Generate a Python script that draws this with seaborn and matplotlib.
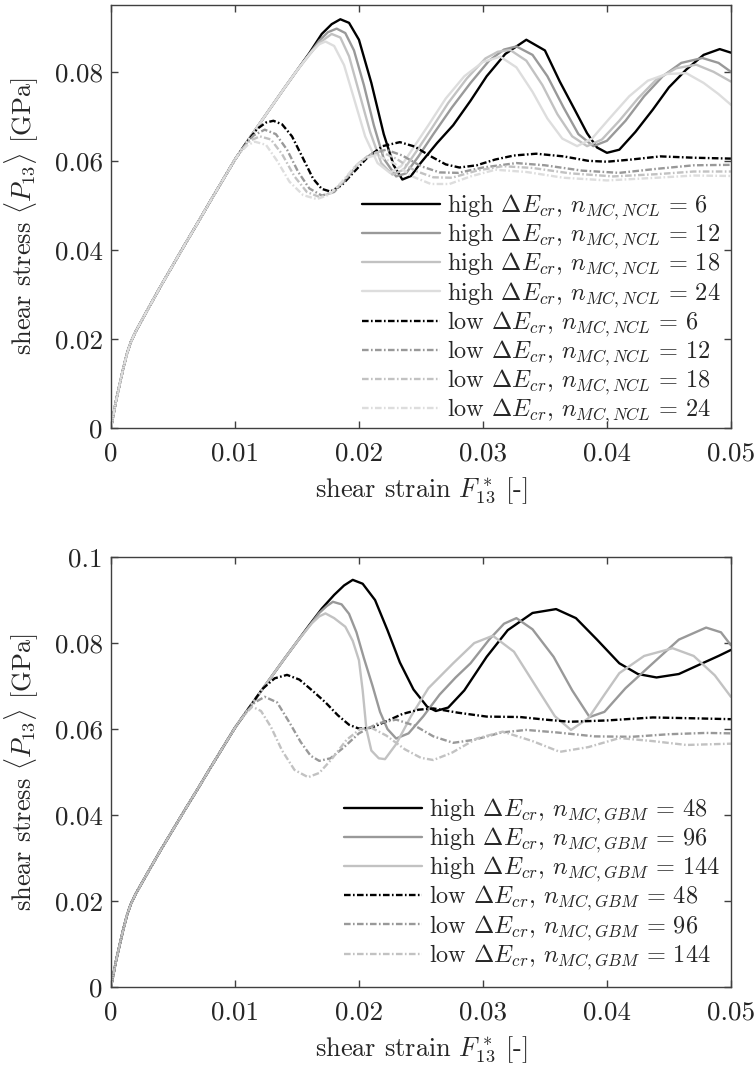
import matplotlib
matplotlib.use('Agg')
import matplotlib.pyplot as plt
import seaborn as sns
import pandas as pd

sns.set_style('ticks')
plt.rcParams['font.family'] = ['cmr10']
plt.rcParams['mathtext.fontset'] = 'cm'
plt.rcParams['axes.formatter.use_mathtext'] = True


# shared elastic part (same for every run)
x_start = [0, 0.0002, 0.0004, 0.0007, 0.001, 0.0013, 0.0016, 0.002, 0.003, 0.004, 0.005,
           0.006, 0.007, 0.008, 0.009, 0.010]
y_start = [0, 0.003, 0.006, 0.0098, 0.0135, 0.0168, 0.0193, 0.0217, 0.0268, 0.0318, 0.0366,
           0.0414, 0.0461, 0.0509, 0.0556, 0.0603]

# continued rise of the high-energy runs
x_rise = [0.011, 0.012, 0.013, 0.014, 0.015]
y_rise = [0.0644, 0.0684, 0.0724, 0.0764, 0.0803]

# ---- top panel: NCL ----
x_h6 = [0.016, 0.017, 0.0178, 0.0185, 0.0192, 0.0200, 0.0210, 0.0220, 0.0228, 0.0235, 0.0242,
        0.0250, 0.0263, 0.0276, 0.0290, 0.0303, 0.0318, 0.0335, 0.0350, 0.0362, 0.0374, 0.0384,
        0.0392, 0.0400, 0.0410, 0.0423, 0.0437, 0.0450, 0.0464, 0.0478, 0.0491, 0.0500]
y_h6 = [0.0842, 0.0885, 0.0907, 0.0918, 0.0910, 0.0872, 0.0775, 0.0660, 0.0590, 0.0558, 0.0566,
        0.0596, 0.0640, 0.0680, 0.0735, 0.0790, 0.0840, 0.0872, 0.0848, 0.0778, 0.0715, 0.0662,
        0.0630, 0.0618, 0.0625, 0.0665, 0.0715, 0.0765, 0.0805, 0.0838, 0.0851, 0.0843]

x_h12 = [0.016, 0.0168, 0.0175, 0.0182, 0.0189, 0.0196, 0.0204, 0.0212, 0.0220, 0.0230, 0.0238,
         0.0248, 0.0260, 0.0275, 0.0290, 0.0305, 0.0317, 0.0327, 0.0340, 0.0352, 0.0365, 0.0377,
         0.0389, 0.0400, 0.0415, 0.0430, 0.0445, 0.0460, 0.0477, 0.0490, 0.0500]
y_h12 = [0.0840, 0.0870, 0.0889, 0.0897, 0.0887, 0.0848, 0.0770, 0.0680, 0.0605, 0.0565, 0.0572,
         0.0610, 0.0660, 0.0720, 0.0775, 0.0825, 0.0850, 0.0857, 0.0838, 0.0790, 0.0720, 0.0660,
         0.0633, 0.0645, 0.0690, 0.0745, 0.0790, 0.0820, 0.0831, 0.0820, 0.0800]

x_h18 = [0.016, 0.0168, 0.0178, 0.0185, 0.0192, 0.0200, 0.0209, 0.0218, 0.0227, 0.0236, 0.0246,
         0.0258, 0.0272, 0.0287, 0.0302, 0.0312, 0.0322, 0.0335, 0.0348, 0.0360, 0.0372, 0.0384,
         0.0396, 0.0410, 0.0425, 0.0440, 0.0456, 0.0472, 0.0486, 0.0500]
y_h18 = [0.0838, 0.0865, 0.0885, 0.0877, 0.0835, 0.0755, 0.0665, 0.0595, 0.0569, 0.0580, 0.0620,
         0.0670, 0.0730, 0.0785, 0.0830, 0.0845, 0.0849, 0.0825, 0.0770, 0.0705, 0.0655, 0.0633,
         0.0648, 0.0690, 0.0740, 0.0783, 0.0808, 0.0816, 0.0800, 0.0778]

x_h24 = [0.0155, 0.0162, 0.0168, 0.0173, 0.0180, 0.0188, 0.0196, 0.0205, 0.0215, 0.0225, 0.0234,
         0.0244, 0.0256, 0.0270, 0.0285, 0.0300, 0.0314, 0.0327, 0.0340, 0.0352, 0.0364, 0.0376,
         0.0388, 0.0402, 0.0418, 0.0433, 0.0448, 0.0464, 0.0478, 0.0490, 0.0500]
y_h24 = [0.0821, 0.0846, 0.0862, 0.0868, 0.0858, 0.0815, 0.0740, 0.0655, 0.0595, 0.0573, 0.0588,
         0.0630, 0.0680, 0.0740, 0.0790, 0.0822, 0.0834, 0.0810, 0.0755, 0.0695, 0.0650, 0.0633,
         0.0650, 0.0695, 0.0745, 0.0780, 0.0795, 0.0797, 0.0775, 0.0750, 0.0726]

x_l6 = [0.0110, 0.0118, 0.0125, 0.0131, 0.0138, 0.0146, 0.0155, 0.0163, 0.0170, 0.0177, 0.0186,
        0.0196, 0.0207, 0.0219, 0.0233, 0.0245, 0.0258, 0.0270, 0.0281, 0.0295, 0.0310, 0.0325,
        0.0343, 0.0365, 0.0385, 0.0400, 0.0420, 0.0443, 0.0470, 0.0500]
y_l6 = [0.0644, 0.0672, 0.0686, 0.0690, 0.0682, 0.0655, 0.0605, 0.0560, 0.0537, 0.0531, 0.0545,
        0.0575, 0.0608, 0.0633, 0.0642, 0.0632, 0.0610, 0.0592, 0.0585, 0.0590, 0.0603, 0.0612,
        0.0616, 0.0610, 0.0600, 0.0598, 0.0603, 0.0610, 0.0607, 0.0605]

x_l12 = [0.0107, 0.0115, 0.0124, 0.0133, 0.0142, 0.0151, 0.0160, 0.0170, 0.0180, 0.0190, 0.0200,
         0.0211, 0.0222, 0.0235, 0.0250, 0.0265, 0.0280, 0.0300, 0.0327, 0.0350, 0.0380, 0.0410,
         0.0440, 0.0470, 0.0500]
y_l12 = [0.0631, 0.0657, 0.0670, 0.0660, 0.0625, 0.0575, 0.0538, 0.0522, 0.0530, 0.0560, 0.0595,
         0.0617, 0.0625, 0.0612, 0.0588, 0.0574, 0.0573, 0.0585, 0.0595, 0.0590, 0.0578, 0.0573,
         0.0582, 0.0590, 0.0591]

x_l18 = [0.0105, 0.0112, 0.0120, 0.0129, 0.0138, 0.0148, 0.0158, 0.0168, 0.0178, 0.0188, 0.0198,
         0.0208, 0.0217, 0.0230, 0.0245, 0.0260, 0.0275, 0.0295, 0.0316, 0.0340, 0.0370, 0.0405,
         0.0440, 0.0470, 0.0500]
y_l18 = [0.0623, 0.0645, 0.0655, 0.0648, 0.0615, 0.0565, 0.0530, 0.0519, 0.0528, 0.0556, 0.0590,
         0.0613, 0.0621, 0.0605, 0.0578, 0.0563, 0.0562, 0.0578, 0.0588, 0.0584, 0.0572, 0.0565,
         0.0570, 0.0576, 0.0576]

x_l24 = [0.0103, 0.0110, 0.0116, 0.0125, 0.0134, 0.0144, 0.0155, 0.0166, 0.0176, 0.0186, 0.0196,
         0.0205, 0.0214, 0.0228, 0.0243, 0.0258, 0.0273, 0.0290, 0.0310, 0.0335, 0.0365, 0.0400,
         0.0440, 0.0470, 0.0500]
y_l24 = [0.0615, 0.0635, 0.0643, 0.0636, 0.0600, 0.0553, 0.0523, 0.0514, 0.0524, 0.0552, 0.0585,
         0.0606, 0.0613, 0.0595, 0.0565, 0.0548, 0.0548, 0.0565, 0.0580, 0.0575, 0.0562, 0.0556,
         0.0562, 0.0567, 0.0566]

# ---- bottom panel: GBM ----
x_h48 = [0.016, 0.017, 0.018, 0.0188, 0.0195, 0.0203, 0.0213, 0.0223, 0.0233, 0.0244, 0.0255,
         0.0262, 0.0272, 0.0285, 0.0303, 0.0320, 0.0340, 0.0359, 0.0375, 0.0392, 0.0410, 0.0425,
         0.0440, 0.0458, 0.0477, 0.0490, 0.0500]
y_h48 = [0.0842, 0.0880, 0.0912, 0.0934, 0.0947, 0.0938, 0.0900, 0.0830, 0.0755, 0.0692, 0.0652,
         0.0642, 0.0650, 0.0690, 0.0768, 0.0830, 0.0870, 0.0879, 0.0858, 0.0808, 0.0753, 0.0728,
         0.0720, 0.0728, 0.0753, 0.0770, 0.0784]

x_h96 = [0.016, 0.0168, 0.0174, 0.0179, 0.0186, 0.0192, 0.0198, 0.0204, 0.0211, 0.0217, 0.0223,
         0.0230, 0.0240, 0.0252, 0.0265, 0.0278, 0.0290, 0.0305, 0.0317, 0.0327, 0.0340, 0.0357,
         0.0372, 0.0386, 0.0398, 0.0415, 0.0437, 0.0458, 0.0480, 0.0492, 0.0500]
y_h96 = [0.0840, 0.0870, 0.0886, 0.0896, 0.0890, 0.0868, 0.0825, 0.0765, 0.0700, 0.0640, 0.0600,
         0.0578, 0.0590, 0.0630, 0.0680, 0.0720, 0.0753, 0.0808, 0.0845, 0.0858, 0.0832, 0.0768,
         0.0690, 0.0628, 0.0640, 0.0695, 0.0753, 0.0808, 0.0836, 0.0825, 0.0795]

x_h144 = [0.0155, 0.0162, 0.0168, 0.0173, 0.0180, 0.0189, 0.0195, 0.0200, 0.0203, 0.0206, 0.0210,
          0.0216, 0.0221, 0.0230, 0.0242, 0.0256, 0.0276, 0.0293, 0.0308, 0.0325, 0.0343, 0.0358,
          0.0371, 0.0385, 0.0398, 0.0410, 0.0430, 0.0453, 0.0470, 0.0487, 0.0500]
y_h144 = [0.0821, 0.0846, 0.0862, 0.0869, 0.0858, 0.0838, 0.0805, 0.0760, 0.0690, 0.0600, 0.0550,
          0.0532, 0.0530, 0.0565, 0.0630, 0.0695, 0.0753, 0.0800, 0.0817, 0.0780, 0.0698, 0.0630,
          0.0598, 0.0625, 0.0680, 0.0730, 0.0770, 0.0788, 0.0770, 0.0725, 0.0675]

x_l48 = [0.0114, 0.0122, 0.0132, 0.0142, 0.0152, 0.0163, 0.0173, 0.0183, 0.0192, 0.0200, 0.0210,
         0.0222, 0.0235, 0.0248, 0.0260, 0.0280, 0.0303, 0.0330, 0.0350, 0.0370, 0.0400, 0.0437,
         0.0470, 0.0500]
y_l48 = [0.0660, 0.0693, 0.0718, 0.0726, 0.0715, 0.0688, 0.0662, 0.0632, 0.0610, 0.0601, 0.0603,
         0.0618, 0.0635, 0.0645, 0.0648, 0.0638, 0.0629, 0.0628, 0.0622, 0.0617, 0.0620, 0.0627,
         0.0625, 0.0623]

x_l96 = [0.0108, 0.0116, 0.0124, 0.0134, 0.0144, 0.0153, 0.0161, 0.0168, 0.0177, 0.0188, 0.0200,
         0.0215, 0.0230, 0.0245, 0.0260, 0.0276, 0.0293, 0.0315, 0.0335, 0.0360, 0.0390, 0.0420,
         0.0450, 0.0480, 0.0500]
y_l96 = [0.0636, 0.0662, 0.0675, 0.0662, 0.0615, 0.0570, 0.0538, 0.0526, 0.0532, 0.0558, 0.0590,
         0.0613, 0.0622, 0.0608, 0.0583, 0.0568, 0.0575, 0.0592, 0.0598, 0.0592, 0.0583, 0.0582,
         0.0588, 0.0591, 0.0590]

x_l144 = [0.0104, 0.0110, 0.0114, 0.0121, 0.0129, 0.0138, 0.0148, 0.0159, 0.0168, 0.0178, 0.0190,
          0.0201, 0.0210, 0.0222, 0.0237, 0.0250, 0.0260, 0.0275, 0.0295, 0.0316, 0.0340, 0.0362,
          0.0385, 0.0410, 0.0437, 0.0464, 0.0500]
y_l144 = [0.0620, 0.0640, 0.0652, 0.0642, 0.0605, 0.0550, 0.0505, 0.0488, 0.0498, 0.0530, 0.0575,
          0.0600, 0.0603, 0.0585, 0.0553, 0.0533, 0.0528, 0.0545, 0.0578, 0.0594, 0.0572, 0.0547,
          0.0558, 0.0579, 0.0572, 0.0563, 0.0566]

x_ticks = [0, 0.01, 0.02, 0.03, 0.04, 0.05]
x_ticklabels = ['0', '0.01', '0.02', '0.03', '0.04', '0.05']
y_ticks_top = [0, 0.02, 0.04, 0.06, 0.08]
y_ticklabels_top = ['0', '0.02', '0.04', '0.06', '0.08']
y_ticks_bot = [0, 0.02, 0.04, 0.06, 0.08, 0.1]
y_ticklabels_bot = ['0', '0.02', '0.04', '0.06', '0.08', '0.1']

n_ncl = [6, 12, 18, 24]
n_gbm = [48, 96, 144]

greys4 = ['#000000', '#999999', '#c2c2c2', '#dddddd']
greys3 = ['#000000', '#999999', '#c2c2c2']
dashdot = (0, (2.8, 1.0, 0.7, 1.0))


def curve(own_x, own_y, high):
    if high:
        return x_start + x_rise + own_x, y_start + y_rise + own_y
    return x_start + own_x, y_start + own_y


def panel(ax, highs, lows, ns, greys, tag, yticks, yticklabels, ytop):
    for (ox, oy), n, c in zip(highs, ns, greys):
        xs, ys = curve(ox, oy, True)
        df = pd.DataFrame({'x': xs, 'y': ys})
        sns.lineplot(data=df, x='x', y='y', ax=ax, color=c, lw=1.7, sort=False, estimator=None,
                     label=r'high $\Delta E_{cr}$, $n_{MC,%s}\,=\,%d$' % (tag, n))
    for (ox, oy), n, c in zip(lows, ns, greys):
        xs, ys = curve(ox, oy, False)
        df = pd.DataFrame({'x': xs, 'y': ys})
        sns.lineplot(data=df, x='x', y='y', ax=ax, color=c, lw=1.7, sort=False, estimator=None,
                     linestyle=dashdot,
                     label=r'low $\Delta E_{cr}$, $n_{MC,%s}\,=\,%d$' % (tag, n))
    ax.set_xlim(0, 0.05)
    ax.set_ylim(0, ytop)
    ax.set_xticks(x_ticks)
    ax.set_xticklabels(x_ticklabels)
    ax.set_yticks(yticks)
    ax.set_yticklabels(yticklabels)
    ax.tick_params(direction='in', length=5, width=1, color='#404040', top=True, right=True,
                   labelsize=19.5, pad=6)
    ax.tick_params(axis='x', pad=10)
    for s in ax.spines.values():
        s.set_color('#404040')
        s.set_linewidth(1.0)
    ax.set_xlabel(r'shear strain $F^*_{13}$ [-]', fontsize=19, labelpad=7)
    ax.set_ylabel(r'shear stress $\langle P_{13}\rangle$ [GPa]', fontsize=19, labelpad=10)


fig = plt.figure(figsize=(7.56, 10.68), dpi=100)
ax1 = fig.add_axes([0.1468, 0.5993, 0.820, 0.396])
ax2 = fig.add_axes([0.1468, 0.0758, 0.820, 0.4026])

panel(ax1, [(x_h6, y_h6), (x_h12, y_h12), (x_h18, y_h18), (x_h24, y_h24)],
      [(x_l6, y_l6), (x_l12, y_l12), (x_l18, y_l18), (x_l24, y_l24)],
      n_ncl, greys4, 'NCL', y_ticks_top, y_ticklabels_top, 0.095)
panel(ax2, [(x_h48, y_h48), (x_h96, y_h96), (x_h144, y_h144)],
      [(x_l48, y_l48), (x_l96, y_l96), (x_l144, y_l144)],
      n_gbm, greys3, 'GBM', y_ticks_bot, y_ticklabels_bot, 0.1)

ax1.legend(loc='upper left', bbox_to_anchor=(0.405, 0.557), frameon=False, fontsize=17.5,
           handlelength=3.2, handletextpad=0.3, labelspacing=-0.02, borderpad=0, borderaxespad=0)
ax2.legend(loc='upper left', bbox_to_anchor=(0.376, 0.444), frameon=False, fontsize=17.5,
           handlelength=3.2, handletextpad=0.3, labelspacing=-0.02, borderpad=0, borderaxespad=0)

fig.savefig('out.png', dpi=100)
